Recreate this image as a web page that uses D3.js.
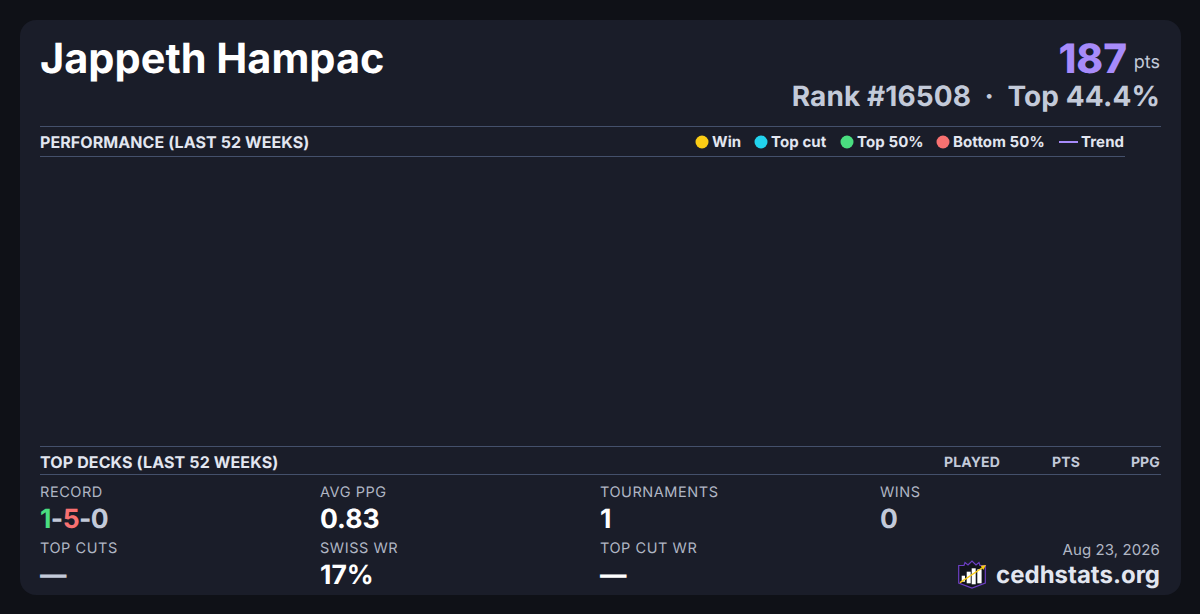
<!DOCTYPE html>
<html>
<head>
<meta charset="utf-8">
<script src="https://cdn.jsdelivr.net/npm/d3@7"></script>
<style>
  html, body { margin: 0; padding: 0; background: #0f1117; }
  svg { display: block; font-family: Inter, sans-serif; text-rendering: geometricPrecision; }
</style>
</head>
<body>
<svg width="1200" height="614"></svg>
<script>
const playerName = "Jappeth Hampac";
const points = 187;
const rank = 16508;
const topPct = 44.4;

const legendLabels = ["Win", "Top cut", "Top 50%", "Bottom 50%", "Trend"];

// the performance chart is empty for this player
const weeks = [];
const deckColumns = ["PLAYED", "PTS", "PPG"];

const statLabels = ["RECORD", "AVG PPG", "TOURNAMENTS", "WINS", "TOP CUTS", "SWISS WR", "TOP CUT WR"];
const statValues = [null, "0.83", "1", "0", "—", "17%", "—"];
const record = ["1", "-", "5", "-", "0"];

const svg = d3.select("svg");

const legendColor = d3.scaleOrdinal()
  .domain(legendLabels)
  .range(["#facc15", "#22d3ee", "#4ade80", "#f87171", "#a78bfa"]);
const legendX = d3.scaleOrdinal()
  .domain(legendLabels)
  .range([702, 761, 847, 943, 1059]);
const deckX = d3.scaleOrdinal()
  .domain(deckColumns)
  .range([1000, 1080, 1160]);
const statColor = d3.scaleOrdinal()
  .domain(statLabels)
  .range(["#c3cad9", "#ffffff", "#ffffff", "#c3cad9", "#c3cad9", "#ffffff", "#ffffff"]);
const recordColor = ["#4ade80", "#c3cad9", "#f87171", "#c3cad9", "#c3cad9"];
const statCol = (i) => 40 + 280 * (i < 4 ? i : i - 4);
const statRow = (i) => (i < 4 ? 497 : 553);

svg.append("rect")
  .attr("x", 20).attr("y", 20)
  .attr("width", 1161).attr("height", 575)
  .attr("rx", 16)
  .attr("fill", "#1a1d29");

const addText = (x, y, str, size, weight, fill, anchor = "start") =>
  svg.append("text")
    .attr("x", x).attr("y", y)
    .attr("font-size", size)
    .attr("font-weight", weight)
    .attr("fill", fill)
    .attr("text-anchor", anchor)
    .text(str);

// header
addText(40, 73, playerName, 41.5, 700, "#ffffff");
addText(1127, 73, points, 40.5, 800, "#a78bfa", "end");
addText(1160, 68, "pts", 18, 400, "#c3cad9", "end");
addText(1160, 106, `Rank #${rank}  ·  Top ${topPct}%`, 28, 700, "#c3cad9", "end")
  .attr("letter-spacing", 0.1)
  .style("white-space", "pre");

// section rules
const rule = (x1, x2, y) =>
  svg.append("line")
    .attr("x1", x1).attr("x2", x2)
    .attr("y1", y + 0.5).attr("y2", y + 0.5)
    .attr("stroke", "#44506b");

rule(40, 1161, 126);
rule(40, 1125, 156);
rule(40, 1161, 446);
rule(40, 1161, 474);

addText(40, 148, "PERFORMANCE (LAST 52 WEEKS)", 16, 700, "#e2e6f0").attr("letter-spacing", 0.08);
addText(40, 468, "TOP DECKS (LAST 52 WEEKS)", 16, 700, "#e2e6f0").attr("letter-spacing", 0.12);

// legend
legendLabels.forEach((label) => {
  const x = legendX(label);
  if (label === "Trend") {
    svg.append("line")
      .attr("x1", x).attr("x2", x + 19)
      .attr("y1", 142).attr("y2", 142)
      .attr("stroke", legendColor(label))
      .attr("stroke-width", 2);
    addText(x + 22, 147, label, 15, 700, "#e2e6f0").attr("letter-spacing", 0.1);
  } else {
    svg.append("circle")
      .attr("cx", x).attr("cy", 142)
      .attr("r", 6.5)
      .attr("fill", legendColor(label));
    addText(x + 10, 147, label, 15, 700, "#e2e6f0").attr("letter-spacing", 0.1);
  }
});

// deck table header
deckColumns.forEach((label) => {
  addText(deckX(label), 467, label, 14, 700, "#c3cad9", "end").attr("letter-spacing", 0.15);
});

// stats
statLabels.forEach((label, i) => {
  addText(statCol(i), statRow(i), label, 14.5, 400, "#b0b6c4")
    .attr("letter-spacing", 0.55);
  if (statValues[i]) {
    addText(statCol(i), statRow(i) + 31, statValues[i], 26.5, 700, statColor(label));
  }
});

addText(statCol(0), statRow(0) + 31, "", 26.5, 700, "#c3cad9")
  .attr("letter-spacing", -0.6)
  .selectAll("tspan")
  .data(record)
  .join("tspan")
  .attr("fill", (d, i) => recordColor[i])
  .text((d) => d);

// footer
addText(1160, 555, "Aug 23, 2026", 15, 400, "#b0b6c4", "end").attr("letter-spacing", 0.1);
addText(1160, 583, "cedhstats.org", 24, 700, "#e2e6f0", "end");

// logo
const logo = svg.append("g").attr("transform", "translate(958, 560)");
logo.append("path")
  .attr("d", "M0.7 5.5 L6 5.5 L7 2.5 L10 5 L14 1 L18 5 L21 2.5 L22 5.5 L27.3 5.5 L27.3 23 L14 28 L0.7 23 Z")
  .attr("fill", "#12141c")
  .attr("stroke", "#6d3fc4")
  .attr("stroke-width", 1.2);
[[3.7, 15.7, 3.3, 21.7], [8.7, 11.7, 4, 23.3], [13.7, 8.3, 4, 24.3], [19.3, 9.3, 4.3, 23.3]].forEach(([x, y, w, b]) => {
  logo.append("rect")
    .attr("x", x).attr("y", y)
    .attr("width", w).attr("height", b - y)
    .attr("fill", "#ffffff");
});
logo.append("line")
  .attr("x1", 2).attr("y1", 22.7)
  .attr("x2", 25.5).attr("y2", 7)
  .attr("stroke", "#facc15")
  .attr("stroke-width", 1.4);
logo.append("path")
  .attr("d", "M28 5 L22.7 5.7 L25.3 10 Z")
  .attr("fill", "#facc15");
</script>
</body>
</html>
